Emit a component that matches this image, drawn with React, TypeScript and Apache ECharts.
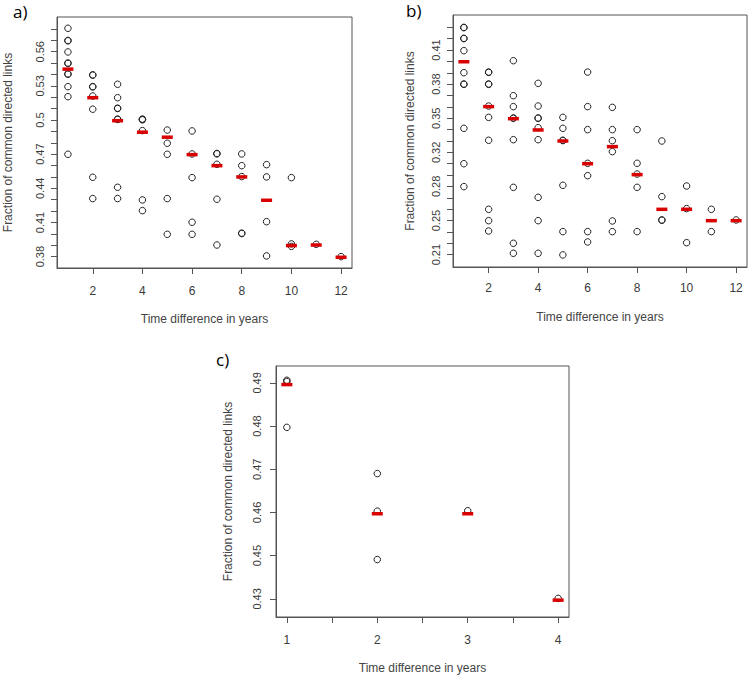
import React, { useEffect, useRef } from "react";
import * as echarts from "echarts";

// ---------- Panel a ----------
const yearsA = [1, 2, 3, 4, 5, 6, 7, 8, 9, 10, 11, 12];
const pointsA: number[][] = [
  [0.5806, 0.5699, 0.5696, 0.5598, 0.5501, 0.5497, 0.5406, 0.5402, 0.5293, 0.5205, 0.4699],
  [0.5397, 0.5394, 0.5294, 0.5291, 0.5211, 0.5095, 0.4497, 0.431],
  [0.5314, 0.5196, 0.5104, 0.5101, 0.5008, 0.5005, 0.4409, 0.431],
  [0.5008, 0.5005, 0.5002, 0.4907, 0.4298, 0.4204],
  [0.4912, 0.4796, 0.4699, 0.431, 0.3996],
  [0.4904, 0.4702, 0.4494, 0.4102, 0.3996],
  [0.4706, 0.4703, 0.4611, 0.4304, 0.3902],
  [0.4702, 0.4599, 0.4503, 0.4006, 0.4003],
  [0.4608, 0.45, 0.4107, 0.3806],
  [0.4494, 0.3912, 0.389],
  [0.3908],
  [0.38],
];
const meansA = [0.5447, 0.5196, 0.4994, 0.4893, 0.4849, 0.4696, 0.4599, 0.45, 0.4295, 0.3897, 0.3902, 0.3794];
const yTicksA = [0.38, 0.39, 0.4, 0.41, 0.42, 0.43, 0.44, 0.45, 0.46, 0.47, 0.48, 0.49, 0.5, 0.51, 0.52, 0.53, 0.54, 0.55, 0.56, 0.57, 0.58];
const yLabelValuesA = [0.38, 0.41, 0.44, 0.47, 0.5, 0.53, 0.56];
const yLabelTextA = ["0.38", "0.41", "0.44", "0.47", "0.5", "0.53", "0.56"];

// ---------- Panel b ----------
const yearsB = [1, 2, 3, 4, 5, 6, 7, 8, 9, 10, 11, 12];
const pointsB: number[][] = [
  [0.4322, 0.4319, 0.4215, 0.4212, 0.4094, 0.3879, 0.3768, 0.3765, 0.3335, 0.2989, 0.2765],
  [0.3885, 0.3882, 0.3768, 0.3765, 0.3553, 0.3442, 0.3218, 0.2543, 0.2432, 0.2331],
  [0.3996, 0.3654, 0.3547, 0.3436, 0.3433, 0.3224, 0.2758, 0.2211, 0.2113],
  [0.3775, 0.3553, 0.3436, 0.3433, 0.3341, 0.3224, 0.266, 0.2432, 0.2113],
  [0.3442, 0.3335, 0.3218, 0.3215, 0.2778, 0.2325, 0.2097],
  [0.3885, 0.3547, 0.3322, 0.2993, 0.2872, 0.2325, 0.2224],
  [0.354, 0.3322, 0.3214, 0.3107, 0.2429, 0.2325],
  [0.3322, 0.2993, 0.2888, 0.2758, 0.2325],
  [0.3211, 0.2667, 0.2439, 0.2436],
  [0.2771, 0.255, 0.2217],
  [0.2543, 0.2325],
  [0.2439],
];
const meansB = [0.3986, 0.3547, 0.3429, 0.3319, 0.3211, 0.2989, 0.3156, 0.2882, 0.2543, 0.2543, 0.2432, 0.2432];
const yTicksB = [
  0.21, 0.2211, 0.2322, 0.2433, 0.2544, 0.2656, 0.2767, 0.2878, 0.2989, 0.31, 0.3211,
  0.3322, 0.3433, 0.3544, 0.3656, 0.3767, 0.3878, 0.3989, 0.41, 0.4211, 0.4322,
];
const yLabelValuesB = [0.21, 0.2433, 0.2767, 0.31, 0.3433, 0.3767, 0.41];
const yLabelTextB = ["0.21", "0.25", "0.28", "0.32", "0.35", "0.38", "0.41"];

// ---------- Panel c ----------
const yearsC = [1, 2, 3, 4];
const pointsC: number[][] = [
  [0.4906, 0.4903, 0.4797],
  [0.469, 0.4603, 0.4491],
  [0.4604],
  [0.4401],
];
const meansC = [0.4896, 0.4597, 0.4597, 0.4397];
const yTicksC = [0.44, 0.45, 0.46, 0.47, 0.48, 0.49];
const yLabelValuesC = [0.44, 0.45, 0.46, 0.47, 0.48, 0.49];
const yLabelTextC = ["0.43", "0.45", "0.46", "0.47", "0.48", "0.49"];

const xTicksAB = [2, 4, 6, 8, 10, 12];
const xTicksC = [1, 1.5, 2, 2.5, 3, 3.5, 4];
const xLabelsC = [1, 2, 3, 4];

const xTitle = "Time difference in years";
const yTitle = "Fraction of common directed links";

const FONT = "Liberation Sans, Arial, sans-serif";
const AXIS_COLOR = "#555";
const TEXT_COLOR = "#3a3a3a";

function lookup(vals: number[], texts: string[]) {
  return (v: number) => {
    const i = vals.findIndex((t) => Math.abs(t - v) < 1e-6);
    return i >= 0 ? texts[i] : "";
  };
}

function flatten(years: number[], pts: number[][]) {
  const out: number[][] = [];
  years.forEach((y, i) => pts[i].forEach((v) => out.push([y, v])));
  return out;
}

function xAxisCfg(grid: number, min: number, max: number, ticks: number[], labels: number[], margin: number, gap: number) {
  return {
    type: "value",
    gridIndex: grid,
    min,
    max,
    splitLine: { show: false },
    axisLine: { show: true, onZero: false, lineStyle: { color: AXIS_COLOR, width: 1 } },
    axisTick: { show: true, length: 6, customValues: ticks, lineStyle: { color: AXIS_COLOR } },
    axisLabel: {
      customValues: labels,
      formatter: (v: number) => String(Math.round(v)),
      fontFamily: FONT,
      fontSize: 12,
      color: TEXT_COLOR,
      margin,
    },
    name: xTitle,
    nameLocation: "middle",
    nameGap: gap,
    nameTextStyle: { fontFamily: FONT, fontSize: 12, color: "#444" },
  };
}

function yAxisCfg(grid: number, min: number, max: number, ticks: number[], lv: number[], lt: string[], margin: number, gap: number) {
  return {
    type: "value",
    gridIndex: grid,
    min,
    max,
    splitLine: { show: false },
    axisLine: { show: true, onZero: false, lineStyle: { color: AXIS_COLOR, width: 1 } },
    axisTick: { show: true, length: 6, customValues: ticks, lineStyle: { color: AXIS_COLOR } },
    axisLabel: {
      customValues: lv,
      formatter: lookup(lv, lt),
      rotate: 90,
      fontFamily: FONT,
      fontSize: 11,
      color: TEXT_COLOR,
      margin,
    },
    name: yTitle,
    nameLocation: "middle",
    nameRotate: 90,
    nameGap: gap,
    nameTextStyle: { fontFamily: FONT, fontSize: 12, color: "#444" },
  };
}

function circleSeries(idx: number, data: number[][]) {
  return {
    type: "scatter",
    xAxisIndex: idx,
    yAxisIndex: idx,
    data,
    symbol: "circle",
    symbolSize: 6.5,
    silent: true,
    itemStyle: { color: "rgba(0,0,0,0)", borderColor: "#222", borderWidth: 1, opacity: 1 },
  };
}

function meanSeries(idx: number, years: number[], means: number[]) {
  return {
    type: "scatter",
    xAxisIndex: idx,
    yAxisIndex: idx,
    data: years.map((y, i) => [y, means[i]]),
    symbol: "rect",
    symbolSize: [11, 3.5],
    silent: true,
    itemStyle: { color: "#d80000", opacity: 1 },
  };
}

export default function App() {
  const ref = useRef<HTMLDivElement>(null);
  useEffect(() => {
    if (!ref.current) return;
    const chart = echarts.init(ref.current, undefined, { renderer: "svg" });
    const gridStyle = { show: true, borderColor: AXIS_COLOR, borderWidth: 1, backgroundColor: "transparent", containLabel: false };
    chart.setOption({
      animation: false,
      backgroundColor: "#ffffff",
      grid: [
        { ...gridStyle, left: 57, top: 17, width: 295, height: 251 },
        { ...gridStyle, left: 453, top: 15, width: 294, height: 252 },
        { ...gridStyle, left: 276, top: 366, width: 293, height: 251 },
      ],
      xAxis: [
        xAxisCfg(0, 0.56, 12.44, xTicksAB, xTicksAB, 17, 45),
        xAxisCfg(1, 0.56, 12.44, xTicksAB, xTicksAB, 15, 44),
        xAxisCfg(2, 0.88, 4.12, xTicksC, xLabelsC, 17, 45),
      ],
      yAxis: [
        yAxisCfg(0, 0.37, 0.5905, yTicksA, yLabelValuesA, yLabelTextA, 12, 43),
        yAxisCfg(1, 0.1979, 0.4443, yTicksB, yLabelValuesB, yLabelTextB, 12, 37),
        yAxisCfg(2, 0.4358, 0.4939, yTicksC, yLabelValuesC, yLabelTextC, 14, 42),
      ],
      graphic: [
        { type: "text", left: 13, top: 3, style: { text: "a)", fontSize: 17, fontFamily: "Open Sans, sans-serif", fill: "#000" } },
        { type: "text", left: 406, top: 2, style: { text: "b)", fontSize: 17, fontFamily: "Open Sans, sans-serif", fill: "#000" } },
        { type: "text", left: 216, top: 351, style: { text: "c)", fontSize: 17, fontFamily: "Open Sans, sans-serif", fill: "#000" } },
      ],
      series: [
        circleSeries(0, flatten(yearsA, pointsA)),
        meanSeries(0, yearsA, meansA),
        circleSeries(1, flatten(yearsB, pointsB)),
        meanSeries(1, yearsB, meansB),
        circleSeries(2, flatten(yearsC, pointsC)),
        meanSeries(2, yearsC, meansC),
      ],
    });
    return () => chart.dispose();
  }, []);
  return <div ref={ref} style={{ position: "absolute", left: 0, top: 0, width: 750, height: 677 }} />;
}
